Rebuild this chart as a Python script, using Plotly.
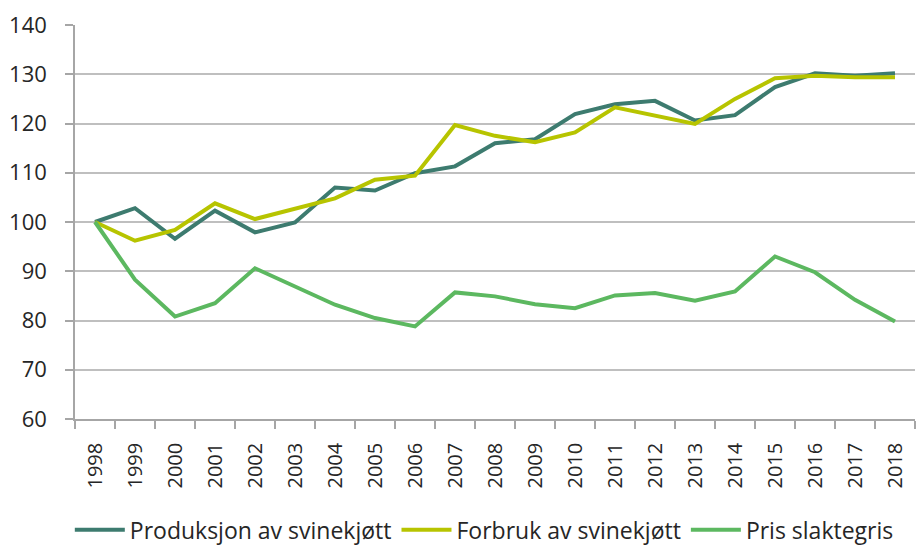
import plotly.graph_objects as go

years = [str(y) for y in range(1998, 2019)]
produksjon = [100, 102.8, 96.6, 102.3, 97.9, 99.9, 107.0, 106.4, 109.9, 111.3, 116.0,
              116.8, 121.9, 123.9, 124.6, 120.6, 121.7, 127.4, 130.2, 129.7, 130.2]
forbruk = [100, 96.2, 98.4, 103.8, 100.6, 102.8, 104.8, 108.6, 109.4, 119.7, 117.5,
           116.2, 118.2, 123.3, 121.6, 119.9, 125.0, 129.2, 129.7, 129.4, 129.4]
pris = [100, 88.3, 80.8, 83.5, 90.6, 86.8, 83.2, 80.5, 78.8, 85.7, 84.9,
        83.3, 82.5, 85.1, 85.6, 84.0, 85.9, 93.0, 89.8, 84.2, 79.8]

series = [
    ("Produksjon av svinekjøtt", produksjon, "#3d7b6f"),
    ("Forbruk av svinekjøtt", forbruk, "#b7c400"),
    ("Pris slaktegris", pris, "#5cb860"),
]

fig = go.Figure()
for name, vals, col in series:
    fig.add_trace(go.Scatter(x=years, y=vals, name=name, mode="lines",
                             line=dict(color=col, width=4)))

fig.update_layout(
    width=919, height=545,
    margin=dict(l=75, r=4, t=25, b=126, autoexpand=False),
    plot_bgcolor="white", paper_bgcolor="white",
    font=dict(family="Open Sans, sans-serif", color="#262626"),
    showlegend=True,
    legend=dict(orientation="h", xref="container", yref="container",
                x=0.527, xanchor="center", y=0.028, yanchor="middle",
                font=dict(size=23, family="Open Sans"), itemwidth=50,
                tracegroupgap=0),
)
fig.update_xaxes(type="category", showgrid=False, showline=True, linecolor="#a6a6a6",
                 linewidth=1.5, ticks="outside", tickson="boundaries", ticklen=8,
                 tickcolor="#a6a6a6", tickwidth=1.5, tickangle=-90,
                 tickfont=dict(size=20), ticklabelstandoff=14, range=[-0.5, 20.5],
                 automargin=False)
fig.update_yaxes(range=[60, 140], dtick=10, showgrid=True, gridcolor="#bfbfbf",
                 gridwidth=1.5, showline=True, linecolor="#a6a6a6", linewidth=1.5,
                 ticks="outside", ticklen=8, tickcolor="#a6a6a6", tickwidth=1.5,
                 tickfont=dict(size=22), ticklabelstandoff=14, zeroline=False,
                 automargin=False)

fig.write_html("out.html", config={"displayModeBar": False},
               post_script="document.body.style.margin='0';")
